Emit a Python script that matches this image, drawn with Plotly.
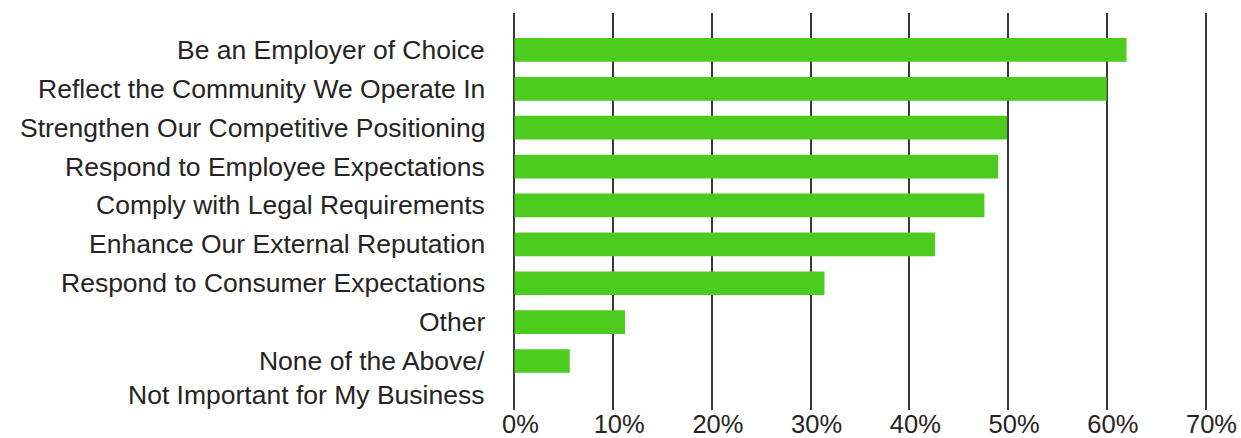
import plotly.graph_objects as go

categories = [
    "Be an Employer of Choice",
    "Reflect the Community We Operate In",
    "Strengthen Our Competitive Positioning",
    "Respond to Employee Expectations",
    "Comply with Legal Requirements",
    "Enhance Our External Reputation",
    "Respond to Consumer Expectations",
    "Other",
    "None of the Above/<br>Not Important for My Business",
]
values = [62.0, 60.0, 49.9, 49.0, 47.6, 42.6, 31.4, 11.2, 5.6]
x_ticks = [0, 10, 20, 30, 40, 50, 60, 70]
x_tick_labels = ["0%", "10%", "20%", "30%", "40%", "50%", "60%", "70%"]

FONT = "Liberation Sans, Arial, Helvetica, sans-serif"
TEXT = "#262324"

fig = go.Figure(
    go.Bar(
        x=values,
        y=categories,
        orientation="h",
        marker=dict(color="#4ccc1e", line=dict(width=0)),
        width=0.61,
        hoverinfo="x+y",
    )
)

annotations = []
for cat in categories:
    multi = "<br>" in cat
    annotations.append(
        dict(
            x=0,
            xref="paper",
            y=cat,
            yref="y",
            text=cat,
            showarrow=False,
            xanchor="right",
            yanchor="top" if multi else "middle",
            yshift=17 if multi else 0,
            xshift=-26,
            align="right",
            font=dict(family=FONT, size=26.5, color=TEXT),
        )
    )

fig.update_layout(
    width=1241,
    height=438,
    margin=dict(l=513, r=34, t=13, b=28),
    paper_bgcolor="white",
    plot_bgcolor="white",
    showlegend=False,
    annotations=annotations,
    xaxis=dict(
        range=[-0.15, 70.15],
        tickvals=x_ticks,
        ticktext=x_tick_labels,
        showgrid=True,
        gridcolor="#3a3a3a",
        gridwidth=1.6,
        zeroline=False,
        showline=False,
        ticks="",
        ticklabelshift=6,
        ticklabelstandoff=-4,
        automargin=False,
        tickfont=dict(family=FONT, size=25.5, color=TEXT),
        fixedrange=True,
    ),
    yaxis=dict(
        type="category",
        categoryorder="array",
        categoryarray=categories,
        range=[9.26, -0.95],
        showticklabels=False,
        showgrid=False,
        zeroline=False,
        showline=False,
        ticks="",
        automargin=False,
        fixedrange=True,
    ),
)

fig.write_html("out.html")
